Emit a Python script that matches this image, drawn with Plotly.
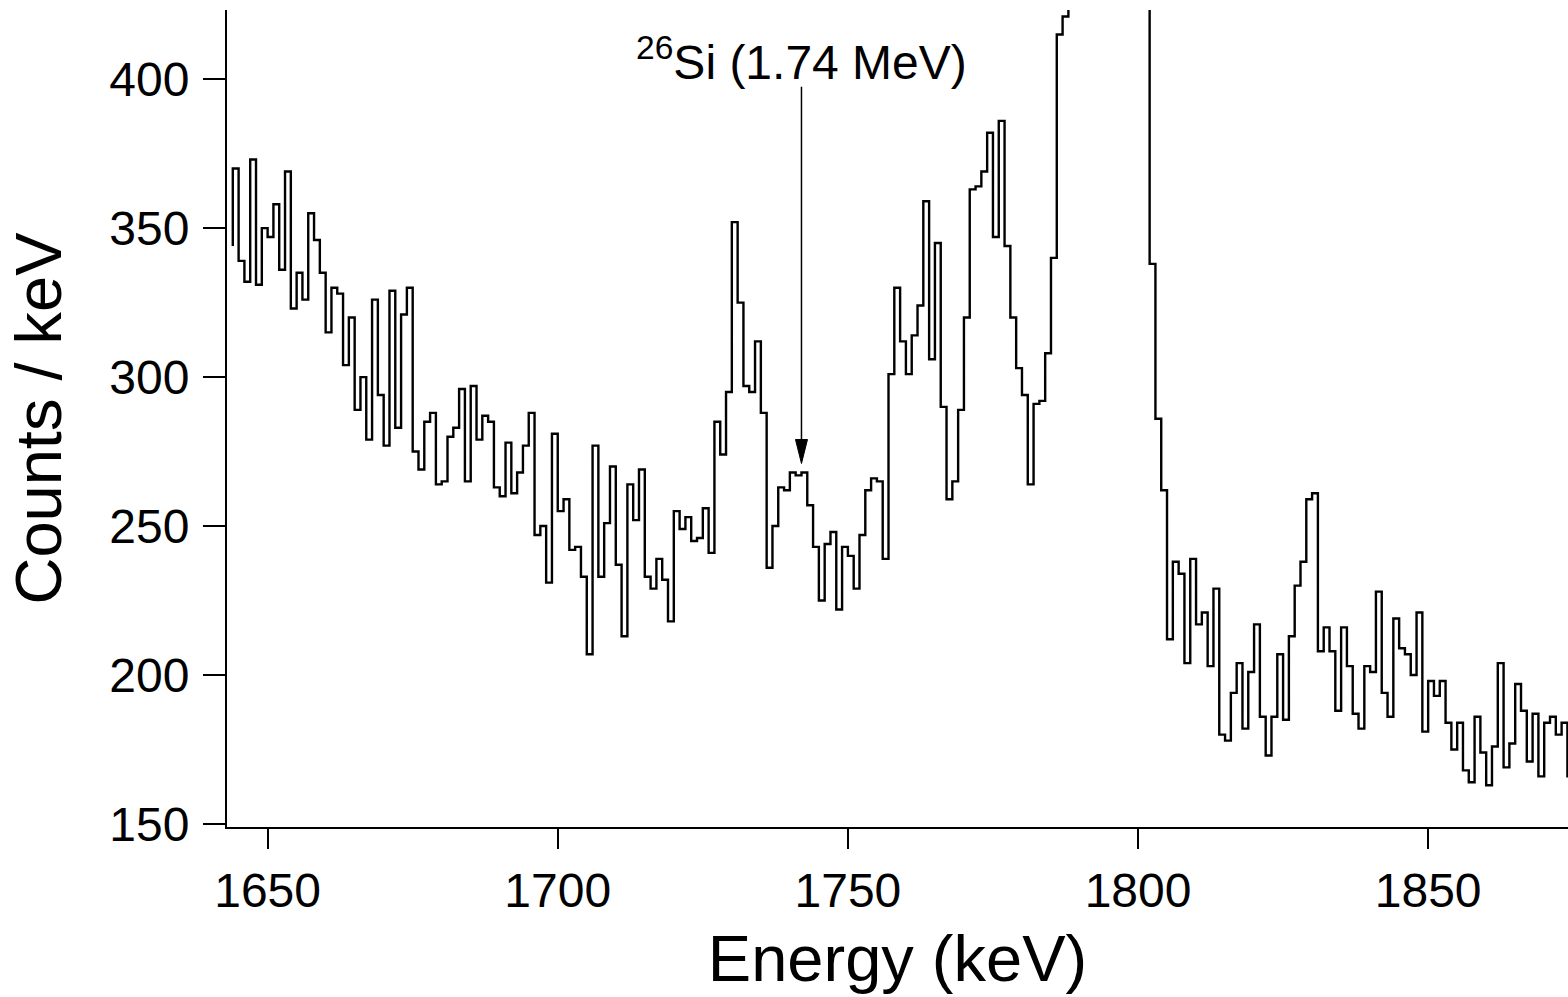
import plotly.graph_objects as go

# ---- data: gamma-ray spectrum, 1 keV bins ----
bin_width_keV = 1
bin_low_edge_keV = list(range(1643, 1875))          # lower edge of each bin
counts_per_keV = [
    344, 370, 339, 332, 373, 331, 350, 347, 358, 336,
    369, 323, 335, 326, 355, 346, 335, 315, 330, 328,
    304, 320, 289, 300, 279, 326, 294, 277, 329, 283,
    321, 330, 275, 269, 285, 288, 264, 265, 280, 283,
    296, 265, 297, 279, 287, 285, 263, 260, 278, 261,
    268, 277, 288, 247, 250, 231, 281, 255, 259, 242,
    243, 233, 207, 277, 233, 251, 270, 237, 213, 264,
    252, 269, 233, 229, 239, 232, 218, 255, 249, 253,
    245, 246, 256, 241, 285, 274, 295, 352, 325, 297,
    295, 312, 288, 236, 250, 263, 262, 268, 267, 268,
    257, 243, 225, 244, 248, 222, 243, 240, 229, 247,
    262, 266, 265, 239, 301, 330, 312, 301, 314, 324,
    359, 306, 345, 290, 259, 265, 289, 320, 363, 364,
    369, 382, 347, 386, 344, 320, 303, 294, 264, 291,
    292, 308, 340, 415, 421, 470, 560, 700, 900, 1150,
    1400, 1600, 1700, 1650, 1450, 1150, 850, 600, 440, 338,
    286, 262, 212, 238, 234, 204, 239, 217, 221, 203,
    229, 180, 178, 194, 204, 182, 201, 217, 186, 173,
    186, 207, 185, 213, 230, 238, 259, 261, 208, 216,
    208, 188, 216, 203, 187, 182, 203, 201, 228, 194,
    186, 219, 209, 207, 200, 221, 181, 198, 193, 198,
    184, 175, 184, 168, 164, 186, 174, 163, 176, 204,
    169, 177, 197, 188, 171, 187, 166, 184, 186, 180,
    184, 166,
]
assert len(bin_low_edge_keV) == len(counts_per_keV)

x_ticks = [1650, 1700, 1750, 1800, 1850]
y_ticks = [150, 200, 250, 300, 350, 400]

# annotation of the 26Si line
line_label = "<sup>26</sup>Si (1.74 MeV)"
line_energy_keV = 1742
arrow_tip_counts = 271
arrow_tail_counts = 397.4

FONT = "Liberation Sans, Arial, Helvetica, sans-serif"

bin_high_edge_keV = [e + bin_width_keV for e in bin_low_edge_keV]

fig = go.Figure()
fig.add_trace(go.Scatter(
    x=bin_high_edge_keV, y=counts_per_keV, mode="lines",
    line=dict(shape="vh", color="black", width=2.4),
    showlegend=False, hoverinfo="x+y",
))

# arrow shaft and head
fig.add_shape(type="line", xref="x", yref="y",
              x0=line_energy_keV, x1=line_energy_keV,
              y0=arrow_tail_counts, y1=arrow_tip_counts + 7,
              line=dict(color="black", width=1.5))
fig.add_shape(type="path", xref="x", yref="y",
              xsizemode="pixel", ysizemode="pixel",
              xanchor=line_energy_keV, yanchor=arrow_tip_counts,
              path="M -6,24 L 6,24 L 0,0 Z",
              fillcolor="black", line=dict(color="black", width=1))

fig.add_annotation(x=line_energy_keV, y=arrow_tail_counts, xref="x", yref="y",
                   text=line_label, showarrow=False,
                   xanchor="center", yanchor="bottom", yshift=-4,
                   font=dict(family=FONT, size=48, color="black"))

axis_common = dict(
    showgrid=False, zeroline=False, showline=True, linecolor="black",
    linewidth=2, ticks="outside", tickwidth=2, tickcolor="black",
    mirror=False, automargin=False,
    tickfont=dict(family=FONT, size=48, color="black"),
)

fig.update_layout(
    width=1568, height=997,
    margin=dict(l=227, r=0, t=10, b=170),
    paper_bgcolor="white", plot_bgcolor="white",
    font=dict(family=FONT, color="black"),
    xaxis=dict(range=[1643.0, 1874.1], tickvals=x_ticks, ticklen=20,
               ticklabelstandoff=0,
               title=dict(text="Energy (keV)", standoff=20,
                          font=dict(family=FONT, size=65, color="black")),
               **axis_common),
    yaxis=dict(range=[149.0, 423.2], tickvals=y_ticks, ticklen=22,
               ticklabelstandoff=4,
               title=dict(text="Counts / keV", standoff=27,
                          font=dict(family=FONT, size=65, color="black")),
               **axis_common),
)

fig.write_html(
    "out.html",
    config={"displayModeBar": False},
    post_script=(
        "document.documentElement.style.overflow='hidden';"
        "document.body.style.margin='0';"
        "document.body.style.overflow='hidden';"
    ),
)
